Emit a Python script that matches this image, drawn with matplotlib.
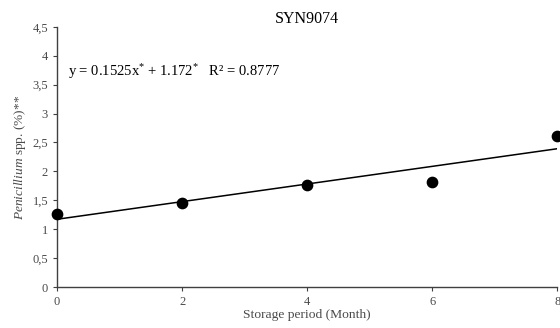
import numpy as np
import matplotlib
matplotlib.use("Agg")
import matplotlib.pyplot as plt

plt.rcParams["font.family"] = ["Liberation Serif", "DejaVu Serif"]
plt.rcParams["mathtext.fontset"] = "custom"
plt.rcParams["mathtext.rm"] = "Liberation Serif"
plt.rcParams["mathtext.it"] = "Liberation Serif:italic"

# data
months = [0, 2, 4, 6, 8]
penicillium = [1.26, 1.45, 1.76, 1.82, 2.61]
slope, intercept = 0.1525, 1.172
yticks = [0, 0.5, 1, 1.5, 2, 2.5, 3, 3.5, 4, 4.5]
xticks = [0, 2, 4, 6, 8]

fig = plt.figure(figsize=(5.6, 3.28), dpi=100)
ax = fig.add_axes([0.102, 0.125, 0.893, 0.793])

ax.scatter(months, penicillium, s=55, color="black", zorder=3, clip_on=False)
xl = np.array([0, 8])
ax.plot(xl, slope * xl + intercept, color="black", lw=1.1)

ax.set_xlim(0, 8)
ax.set_ylim(0, 4.5)
ax.set_xticks(xticks)
ax.set_yticks(yticks)
ax.set_yticklabels([f"{v:g}".replace(".", ",") for v in yticks])
for s in ["top", "right"]:
    ax.spines[s].set_visible(False)
for s in ["left", "bottom"]:
    ax.spines[s].set_color("#404040")
    ax.spines[s].set_linewidth(1.0)
ax.tick_params(labelsize=9, colors="#404040", labelcolor="#4a4a4a", length=3)

ax.set_title("SYN9074", fontsize=11.5, pad=3)
ax.set_xlabel("Storage period (Month)", fontsize=9.7, color="#4a4a4a", labelpad=1)
ax.set_ylabel(r"$\it{Penicillium}$ spp. (%)**", fontsize=9.6, color="#4a4a4a", labelpad=3)

ax.text(0.18, 3.72, r"y = 0.1525x$^{*}$ + 1.172$^{*}$   R² = 0.8777",
        fontsize=10.5, va="center", ha="left")

fig.savefig("out.png", dpi=100)
